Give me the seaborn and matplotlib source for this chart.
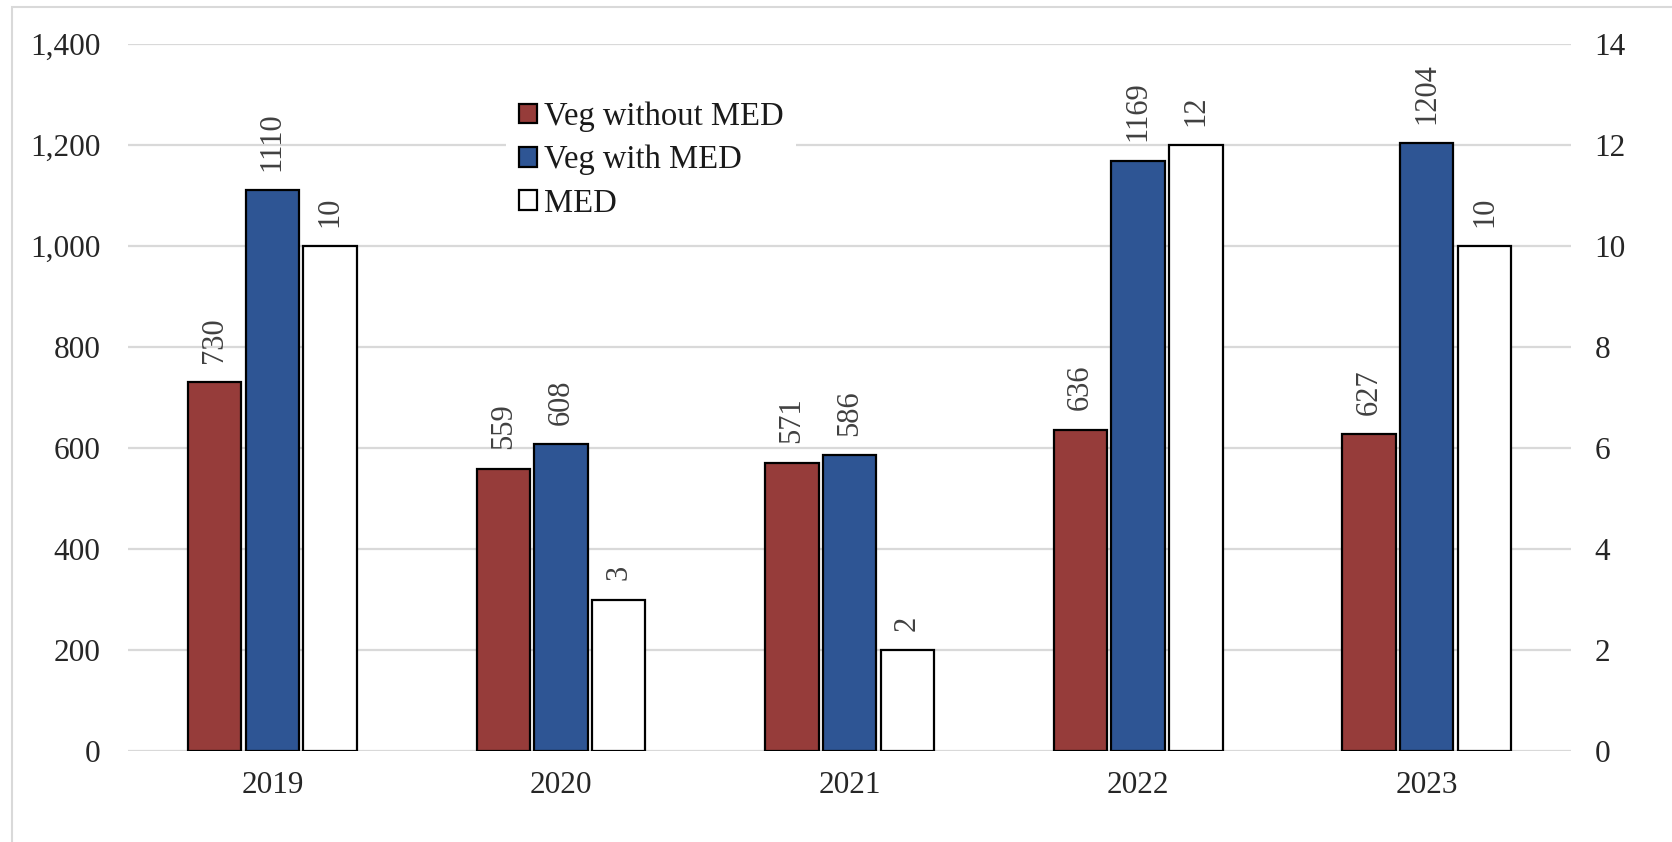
import matplotlib
matplotlib.use('Agg')
import matplotlib.pyplot as plt
import seaborn as sns
import pandas as pd
from matplotlib.patches import Patch, Rectangle
from matplotlib.ticker import FuncFormatter

# data
years = ['2019', '2020', '2021', '2022', '2023']
veg_without_med = [730, 559, 571, 636, 627]
veg_with_med = [1110, 608, 586, 1169, 1204]
med = [10, 3, 2, 12, 10]
series_order = ['Veg without MED', 'Veg with MED', 'MED']
colors = {'Veg without MED': '#963C3A', 'Veg with MED': '#2E5594', 'MED': '#FFFFFF'}

sns.set_style('white')
plt.rcParams['font.family'] = ['Liberation Serif', 'DejaVu Serif']

# long format tables: veg counts on the left axis, MED on the right axis
veg = pd.DataFrame({
    'year': years + years,
    'series': ['Veg without MED'] * len(years) + ['Veg with MED'] * len(years),
    'value': veg_without_med + veg_with_med,
})
med_df = pd.DataFrame({'year': years, 'series': ['MED'] * len(years), 'value': med})

fig = plt.figure(figsize=(16.72, 8.42), dpi=100)
ax = fig.add_axes([0.0766, 0.108, 0.863, 0.8397])
ax2 = ax.twinx()

bar_kw = dict(x='year', y='value', hue='series', order=years, hue_order=series_order,
              palette=colors, saturation=1, width=0.6, gap=0.075, errorbar=None,
              dodge=True, edgecolor='black', linewidth=1.6, legend=False)
sns.barplot(data=veg, ax=ax, **bar_kw)
sns.barplot(data=med_df, ax=ax2, **bar_kw)

# value labels, rotated like the original
for a in (ax, ax2):
    for cont in a.containers:
        a.bar_label(cont, rotation=90, padding=14, fontsize=22, color='#404040')

ax.set_ylim(0, 1400)
ax.set_yticks(range(0, 1401, 200))
ax.yaxis.set_major_formatter(FuncFormatter(lambda v, p: f'{v:,.0f}'))
ax2.set_ylim(0, 14)
ax2.set_yticks(range(0, 15, 2))
ax.set_xlim(-0.5, 4.5)

ax.set_axisbelow(True)
ax.grid(axis='y', color='#D9D9D9', linewidth=1.6)
ax.grid(axis='x', visible=False)
ax2.grid(False)
for a in (ax, ax2):
    for s in a.spines.values():
        s.set_visible(False)
    a.set_xlabel('')
    a.set_ylabel('')
ax.tick_params(axis='y', length=0, pad=20, labelsize=22.5, labelcolor='#262626')
ax.tick_params(axis='x', length=0, pad=14, labelsize=22.5, labelcolor='#262626')
ax2.tick_params(axis='y', length=0, pad=17, labelsize=22.5, labelcolor='#262626')

handles = [Patch(facecolor=colors[s], edgecolor='black', linewidth=1.6, label=s) for s in series_order]
leg = ax2.legend(handles=handles, loc='upper left', bbox_to_anchor=(0.262, 0.937),
                 frameon=True, facecolor='white', edgecolor='none', framealpha=1,
                 handlelength=0.55, handleheight=0.55, handletextpad=0.2,
                 labelspacing=0.39, fontsize=23.5, borderpad=0.4, borderaxespad=0)
for t in leg.get_texts():
    t.set_color('#1a1a1a')

# light outer frame of the chart area
fig.patches.append(Rectangle((0.007, -0.1), 1.2, 1.092, transform=fig.transFigure,
                             fill=False, edgecolor='#D9D9D9', linewidth=1.5))

fig.savefig('out.png', dpi=100)
